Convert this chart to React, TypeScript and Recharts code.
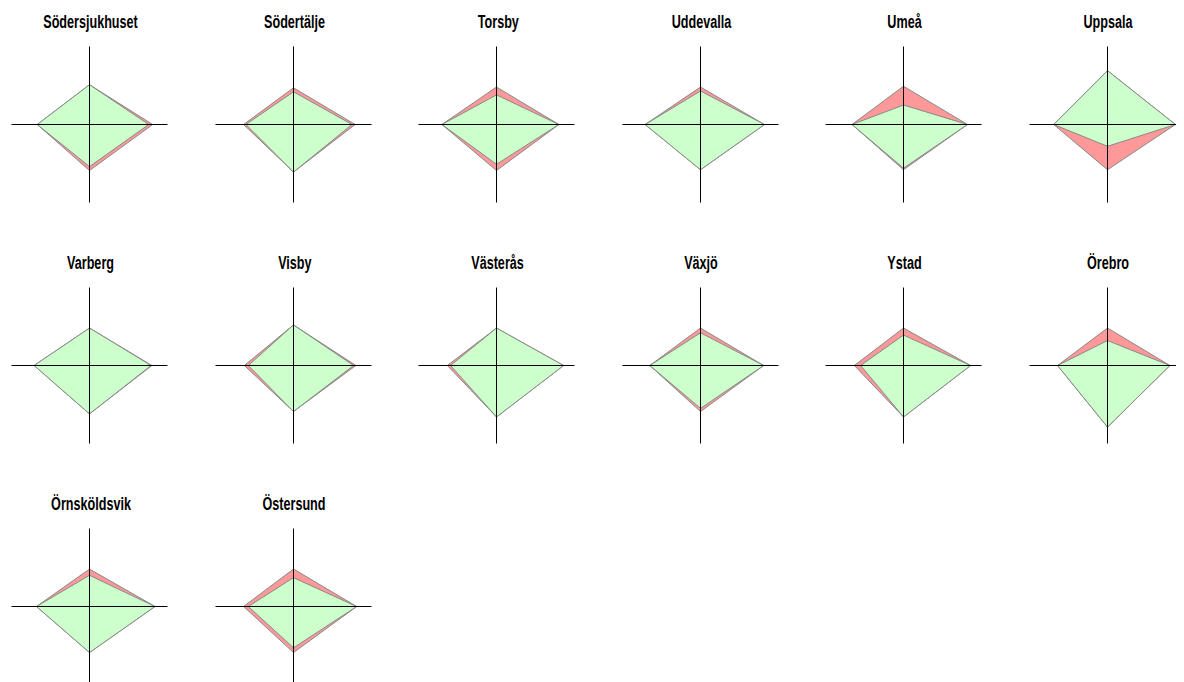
import React from "react";
import {
  PolarAngleAxis,
  PolarGrid,
  PolarRadiusAxis,
  Radar,
  RadarChart,
} from "recharts";

const clinics = [
  "Södersjukhuset",
  "Södertälje",
  "Torsby",
  "Uddevalla",
  "Umeå",
  "Uppsala",
  "Varberg",
  "Visby",
  "Västerås",
  "Växjö",
  "Ystad",
  "Örebro",
  "Örnsköldsvik",
  "Östersund",
];

// four directions, clockwise from the top
const axes = ["top", "right", "bottom", "left"];

// green polygon (front)
const greenValues = [
  [51, 76, 54, 67],
  [42, 75, 61, 61],
  [38, 80, 51, 70],
  [43, 82, 58, 71],
  [25, 82, 56, 66],
  [69, 87, 28, 69],
  [48, 79, 62, 71],
  [52, 77, 59, 58],
  [48, 86, 66, 59],
  [42, 81, 55, 65],
  [39, 86, 66, 55],
  [32, 80, 79, 64],
  [40, 84, 59, 68],
  [37, 81, 53, 58],
];

// red polygon (behind)
const redValues = [
  [51, 81, 59, 67],
  [47, 79, 61, 64],
  [48, 80, 59, 70],
  [48, 82, 58, 71],
  [49, 82, 58, 66],
  [69, 87, 58, 69],
  [48, 80, 62, 71],
  [52, 80, 59, 63],
  [48, 86, 66, 63],
  [48, 81, 59, 65],
  [48, 86, 66, 63],
  [48, 80, 79, 64],
  [48, 84, 59, 68],
  [48, 81, 59, 64],
];

const W = 170;
const H = 215;
const CX = 85.5;
const CY = 92.5;
const R = 78;

function Clinic({ index }: { index: number }) {
  const data = axes.map((axis, i) => ({
    axis,
    green: greenValues[index][i],
    red: redValues[index][i],
  }));

  return (
    <div style={{ width: 203.5, height: 241 }}>
      <div
        style={{
          width: W + 4,
          height: 20,
          lineHeight: "20px",
          textAlign: "center",
          whiteSpace: "nowrap",
        }}
      >
        <span
          style={{
            display: "inline-block",
            transform: "scaleX(0.7)",
            transformOrigin: "center",
            fontFamily: "'Liberation Sans', Arial, sans-serif",
            fontWeight: "bold",
            fontSize: 18,
            color: "#000",
          }}
        >
          {clinics[index]}
        </span>
      </div>
      <div style={{ position: "relative", width: W, height: H }}>
        <RadarChart
          width={W}
          height={H}
          data={data}
          cx={CX}
          cy={CY}
          outerRadius={R}
          margin={{ top: 0, right: 0, bottom: 0, left: 0 }}
        >
          <PolarAngleAxis dataKey="axis" tick={false} axisLine={false} />
          <PolarRadiusAxis domain={[0, 100]} tick={false} axisLine={false} />
          <Radar
            dataKey="red"
            stroke="#888"
            strokeWidth={1}
            fill="#ff9999"
            fillOpacity={1}
            isAnimationActive={false}
          />
          <Radar
            dataKey="green"
            stroke="#888"
            strokeWidth={1}
            fill="#ccffcc"
            fillOpacity={1}
            isAnimationActive={false}
          />
        </RadarChart>
        {/* crosshair drawn on top of the polygons */}
        <div style={{ position: "absolute", left: 0, top: 0 }}>
          <RadarChart
            width={W}
            height={H}
            data={data}
            cx={CX}
            cy={CY}
            outerRadius={R}
            margin={{ top: 0, right: 0, bottom: 0, left: 0 }}
          >
            <PolarAngleAxis dataKey="axis" tick={false} axisLine={false} />
            <PolarRadiusAxis domain={[0, 100]} tick={false} axisLine={false} />
            <PolarGrid polarRadius={[]} stroke="#000" strokeOpacity={1} />
          </RadarChart>
        </div>
      </div>
    </div>
  );
}

export default function App() {
  return (
    <div
      style={{
        display: "grid",
        gridTemplateColumns: "repeat(6, 203.5px)",
        marginLeft: -4,
        paddingTop: 4,
        background: "#fff",
      }}
    >
      {clinics.map((c, i) => (
        <Clinic key={c} index={i} />
      ))}
    </div>
  );
}
